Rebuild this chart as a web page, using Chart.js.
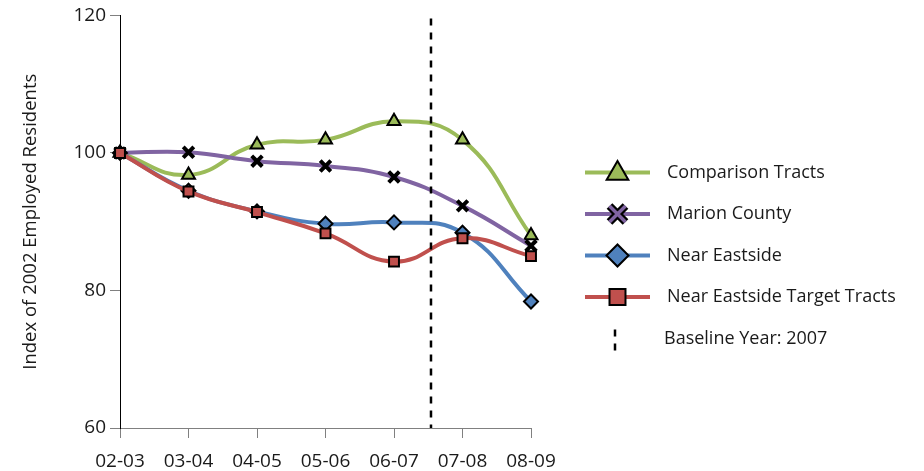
<!DOCTYPE html>
<html>
<head>
<meta charset="utf-8">
<script src="https://cdn.jsdelivr.net/npm/chart.js@4.4.1/dist/chart.umd.min.js"></script>
<style>
html, body { margin: 0; padding: 0; background: #fff; }
#wrap { width: 924px; height: 471px; }
</style>
</head>
<body>
<div id="wrap"><canvas id="chart" width="924" height="471"></canvas></div>
<script>
// values (index, 2002 = 100)
const categories = ['02-03', '03-04', '04-05', '05-06', '06-07', '07-08', '08-09'];
const comparisonTracts = [100, 96.8, 101.2, 101.9, 104.6, 101.9, 88.0];
const marionCounty = [100, 100.1, 98.8, 98.1, 96.5, 92.3, 86.5];
const nearEastside = [100, 94.5, 91.5, 89.7, 89.9, 88.4, 78.4];
const targetTracts = [100, 94.4, 91.4, 88.3, 84.2, 87.6, 85.0];
const yMin = 60, yMax = 120, yStep = 20;
const baselineIndex = 4.54;
const baselineLabel = 'Baseline Year: 2007';
const yTitle = 'Index of 2002 Employed Residents';

const FONT = 'Open Sans';
const FSIZE = 18;
const TEXT = '#1a1a1a';

function series(label, data, color, style, radius, fill, order) {
    return {
        label: label,
        data: data,
        borderColor: color,
        borderWidth: 4,
        tension: 0.45,
        fill: false,
        pointStyle: style,
        pointRadius: radius,
        pointHoverRadius: radius,
        pointBackgroundColor: fill,
        pointBorderColor: '#000',
        pointBorderWidth: style === 'crossRot' ? 4 : 2,
        order: order
    };
}

// draws the baseline dashed line through the x scale
const baselinePlugin = {
    id: 'baseline',
    afterDatasetsDraw(chart) {
        const { ctx, chartArea, scales } = chart;
        const x = scales.x.getPixelForValue(baselineIndex);
        ctx.save();
        ctx.strokeStyle = '#000';
        ctx.lineWidth = 2.5;
        ctx.setLineDash([7, 7]);
        ctx.beginPath();
        ctx.moveTo(x, chartArea.top + 3);
        ctx.lineTo(x, chartArea.bottom);
        ctx.stroke();
        ctx.restore();
    }
};

// legend on the right: line + marker like the spreadsheet one
const sideLegend = {
    id: 'sideLegend',
    afterDraw(chart) {
        const ctx = chart.ctx;
        const lineX0 = 585, lineX1 = 650, markX = 617.5, textX = 667;
        const top = 172.5, gap = 41.5;
        ctx.save();
        ctx.font = FSIZE + 'px "' + FONT + '"';
        ctx.textBaseline = 'middle';
        ctx.fillStyle = TEXT;
        const order = [0, 1, 2, 3];
        order.forEach((i, row) => {
            const ds = chart.data.datasets[i];
            const y = top + row * gap;
            ctx.strokeStyle = ds.borderColor;
            ctx.lineWidth = 4;
            ctx.setLineDash([]);
            ctx.beginPath();
            ctx.moveTo(lineX0, y);
            ctx.lineTo(lineX1, y);
            ctx.stroke();
            if (ds.pointStyle === 'crossRot') {
                const s = 8;
                ctx.lineCap = 'butt';
                [['#000', 8], [ds.borderColor, 3.5]].forEach(([c, w]) => {
                    ctx.strokeStyle = c;
                    ctx.lineWidth = w;
                    ctx.beginPath();
                    ctx.moveTo(markX - s, y - s); ctx.lineTo(markX + s, y + s);
                    ctx.moveTo(markX - s, y + s); ctx.lineTo(markX + s, y - s);
                    ctx.stroke();
                });
            } else {
                const big = { triangle: 12.5, rectRot: 11, rect: 11.3 }[ds.pointStyle];
                ctx.fillStyle = ds.pointBackgroundColor;
                ctx.strokeStyle = '#000';
                ctx.lineWidth = 2;
                Chart.helpers.drawPoint(ctx, { pointStyle: ds.pointStyle, radius: big, rotation: 0, borderWidth: 2 }, markX, ds.pointStyle === 'triangle' ? y + 1 : y);
            }
            ctx.fillStyle = TEXT;
            ctx.fillText(ds.label, textX, y);
        });
        // baseline entry
        const yb = top + 4 * gap;
        ctx.strokeStyle = '#000';
        ctx.lineWidth = 2.5;
        ctx.setLineDash([7, 7]);
        ctx.beginPath();
        ctx.moveTo(615, yb - 9);
        ctx.lineTo(615, yb + 14);
        ctx.stroke();
        ctx.fillText(baselineLabel, 664, yb);
        ctx.restore();
    }
};

Chart.defaults.font.family = FONT;
Chart.defaults.font.size = FSIZE;
Chart.defaults.color = TEXT;

new Chart(document.getElementById('chart').getContext('2d'), {
    type: 'line',
    data: {
        labels: categories,
        datasets: [
            series('Comparison Tracts', comparisonTracts, '#9BBB59', 'triangle', 7.5, '#9BBB59', 4),
            series('Marion County', marionCounty, '#8064A2', 'crossRot', 7.5, '#8064A2', 3),
            series('Near Eastside', nearEastside, '#4F81BD', 'rectRot', 7, '#4F81BD', 2),
            series('Near Eastside Target Tracts', targetTracts, '#C0504D', 'rect', 7, '#C0504D', 1)
        ]
    },
    options: {
        responsive: false,
        animation: false,
        layout: { padding: { left: 0, right: 393, top: 15, bottom: 0 } },
        scales: {
            x: {
                offset: false,
                grid: { display: true, drawOnChartArea: false, drawTicks: true, tickLength: 10, color: '#808080', lineWidth: 1 },
                border: { display: true, color: '#808080', width: 1 },
                ticks: { padding: 12, maxRotation: 0, autoSkip: false, color: TEXT, font: { size: 19 } },
                afterFit(scale) { scale.height = 43; }
            },
            y: {
                min: yMin,
                max: yMax,
                ticks: { stepSize: yStep, padding: 4, color: TEXT, font: { size: 19 } },
                grid: { display: true, drawOnChartArea: false, drawTicks: true, tickLength: 10, color: '#808080', lineWidth: 1 },
                border: { display: true, color: '#000', width: 1 },
                title: { display: true, text: yTitle, color: TEXT, font: { size: 18.5 }, padding: { top: 20, bottom: 0 } },
                afterFit(scale) { scale.width = 120; }
            }
        },
        plugins: {
            legend: { display: false },
            tooltip: { enabled: false }
        }
    },
    plugins: [baselinePlugin, sideLegend]
});
</script>
</body>
</html>
